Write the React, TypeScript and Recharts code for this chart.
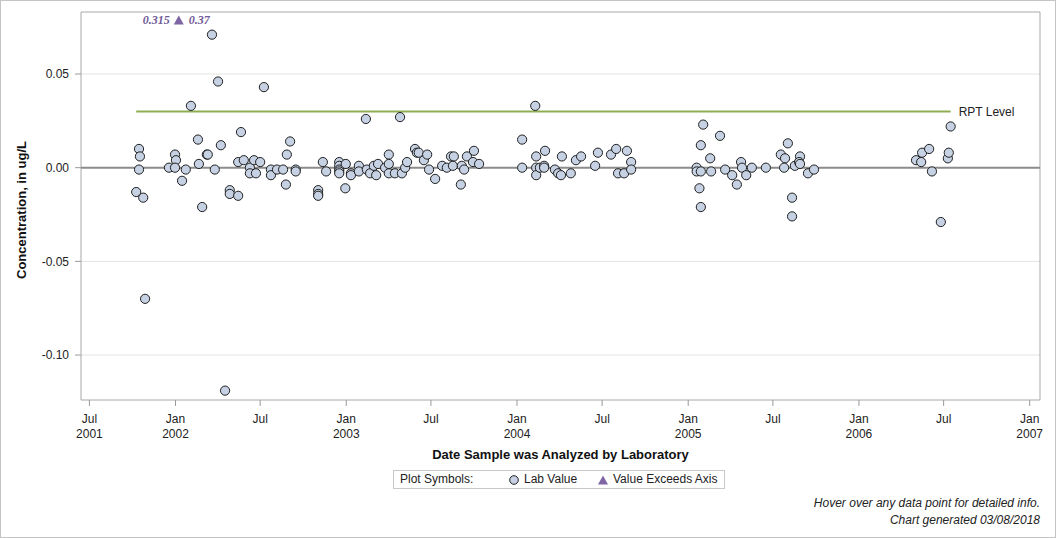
import React from "react";
import {
  ScatterChart,
  Scatter,
  XAxis,
  YAxis,
  CartesianGrid,
  ReferenceLine,
  ReferenceArea,
} from "recharts";

// Lab results: analysis date and reported concentration (ug/L)
const sampleDates = [
  "2001-10-09", "2001-10-15", "2001-10-17", "2001-10-15", "2001-10-24", "2001-10-28",
  "2001-12-18", "2001-12-31", "2002-01-02", "2001-12-31", "2002-01-15", "2002-01-23",
  "2002-02-03", "2002-02-18", "2002-02-20", "2002-02-27", "2002-03-09", "2002-03-11",
  "2002-03-20", "2002-03-26", "2002-04-02", "2002-04-08", "2002-04-17", "2002-04-27",
  "2002-04-27", "2002-05-15", "2002-05-15", "2002-05-21", "2002-05-27", "2002-06-09",
  "2002-06-09", "2002-06-18", "2002-06-22", "2002-07-01", "2002-07-09", "2002-07-24",
  "2002-07-24", "2002-08-06", "2002-08-19", "2002-08-25", "2002-08-27", "2002-09-03",
  "2002-09-15", "2002-09-15", "2002-11-02", "2002-11-02", "2002-11-02", "2002-11-12",
  "2002-11-19", "2002-12-17", "2002-12-17", "2002-12-17", "2002-12-17", "2002-12-17",
  "2002-12-31", "2002-12-30", "2003-01-11", "2003-01-11", "2003-01-28", "2003-01-28",
  "2003-02-12", "2003-02-14", "2003-02-21", "2003-03-01", "2003-03-06", "2003-03-10",
  "2003-03-25", "2003-04-02", "2003-04-02", "2003-04-02", "2003-04-15", "2003-04-26",
  "2003-04-30", "2003-05-07", "2003-05-11", "2003-05-28", "2003-06-01", "2003-06-05",
  "2003-06-16", "2003-06-23", "2003-06-27", "2003-07-10", "2003-07-25", "2003-08-04",
  "2003-08-13", "2003-08-19", "2003-08-17", "2003-09-03", "2003-09-05", "2003-09-10",
  "2003-09-16", "2003-10-01", "2003-09-29", "2003-10-12", "2004-01-12", "2004-01-12",
  "2004-02-09", "2004-02-11", "2004-02-11", "2004-02-11", "2004-02-19", "2004-02-28",
  "2004-02-28", "2004-03-01", "2004-03-22", "2004-03-29", "2004-04-04", "2004-04-06",
  "2004-04-25", "2004-05-06", "2004-05-17", "2004-06-16", "2004-06-22", "2004-07-20",
  "2004-07-31", "2004-08-04", "2004-08-17", "2004-08-23", "2004-09-01", "2004-09-01",
  "2005-01-19", "2005-01-19", "2005-01-28", "2005-01-28", "2005-01-25", "2005-01-28",
  "2005-02-02", "2005-02-17", "2005-02-19", "2005-03-10", "2005-03-21", "2005-04-05",
  "2005-04-15", "2005-04-24", "2005-04-26", "2005-05-05", "2005-05-17", "2005-06-16",
  "2005-07-18", "2005-07-27", "2005-07-25", "2005-08-02", "2005-08-11", "2005-08-11",
  "2005-08-17", "2005-08-28", "2005-08-26", "2005-08-28", "2005-09-14", "2005-09-27",
  "2006-05-03", "2006-05-14", "2006-05-16", "2006-05-31", "2006-06-06", "2006-06-25",
  "2006-07-10", "2006-07-12", "2006-07-16",
];

const labValues = [
  -0.013, 0.010, 0.006, -0.001, -0.016, -0.070,
  0.000, 0.007, 0.004, 0.000, -0.007, -0.001,
  0.033, 0.015, 0.002, -0.021, 0.007, 0.007,
  0.071, -0.001, 0.046, 0.012, -0.119, -0.012,
  -0.014, -0.015, 0.003, 0.019, 0.004, 0.000,
  -0.003, 0.004, -0.003, 0.003, 0.043, -0.001,
  -0.004, -0.001, -0.001, -0.009, 0.007, 0.014,
  -0.001, -0.002, -0.012, -0.014, -0.015, 0.003,
  -0.002, 0.003, 0.001, -0.001, -0.002, -0.003,
  0.002, -0.011, -0.003, -0.004, 0.001, -0.002,
  0.026, -0.001, -0.003, 0.001, -0.004, 0.002,
  0.000, 0.007, 0.002, -0.003, -0.003, 0.027,
  -0.003, 0.000, 0.003, 0.010, 0.008, 0.008,
  0.004, 0.007, -0.001, -0.006, 0.001, 0.000,
  0.006, 0.006, 0.001, -0.009, 0.001, -0.001,
  0.006, 0.009, 0.003, 0.002, 0.015, 0.000,
  0.033, 0.006, 0.000, -0.004, 0.000, 0.001,
  0.000, 0.009, -0.001, -0.003, -0.004, 0.006,
  -0.003, 0.004, 0.006, 0.001, 0.008, 0.007,
  0.010, -0.003, -0.003, 0.009, 0.003, -0.001,
  0.000, -0.002, 0.012, -0.002, -0.011, -0.021,
  0.023, 0.005, -0.002, 0.017, -0.001, -0.004,
  -0.009, 0.003, 0.000, -0.004, 0.000, 0.000,
  0.007, 0.005, 0.000, 0.013, -0.016, -0.026,
  0.001, 0.006, 0.003, 0.002, -0.003, -0.001,
  0.004, 0.003, 0.008, 0.010, -0.002, -0.029,
  0.005, 0.008, 0.022,
];

// Results above the top of the axis, shown as a single marker
const exceedDate = "2002-01-08";
const exceedValues = [0.315, 0.37];

// Reporting level line
const rptDates = ["2001-10-09", "2006-07-16"];
const rptLevel = 0.03;
const rptLabel = "RPT Level";

const xTickDates = [
  "2001-07-01", "2002-01-01", "2002-07-01", "2003-01-01", "2003-07-01", "2004-01-01",
  "2004-07-01", "2005-01-01", "2005-07-01", "2006-01-01", "2006-07-01", "2007-01-01",
];
const yTicks = [-0.1, -0.05, 0, 0.05];

const xDomainDates = ["2001-06-13", "2007-01-23"];
const yDomain: [number, number] = [-0.124, 0.0831];
// where an off-scale marker sits, just under the top of the axis
const exceedMarkerLevel = 0.0788;

const FONT = "'Liberation Sans', Arial, Helvetica, sans-serif";
const SERIF = "'Liberation Serif', 'Times New Roman', serif";
const MONTHS = ["Jan", "Feb", "Mar", "Apr", "May", "Jun", "Jul", "Aug", "Sep", "Oct", "Nov", "Dec"];

const toTime = (s: string) => Date.parse(s + "T00:00:00Z");

const labData = sampleDates.map((d, i) => ({ t: toTime(d), v: labValues[i] }));
const rptData = rptDates.map((d, i) => ({
  t: toTime(d),
  v: rptLevel,
  label: i === rptDates.length - 1 ? rptLabel : "",
}));
const exceedData = [
  {
    t: toTime(exceedDate),
    v: Math.min(exceedValues[0], exceedMarkerLevel),
    lo: exceedValues[0],
    hi: exceedValues[1],
  },
];
const xTicks = xTickDates.map(toTime);
const xDomain: [number, number] = [toTime(xDomainDates[0]), toTime(xDomainDates[1])];

const LabDot = (p: any) => (
  <circle cx={p.cx} cy={p.cy} r={4.6} fill="#c6d2e4" stroke="#1e1e1e" strokeWidth={1} />
);

const RptPoint = (p: any) => {
  const label = p.payload && p.payload.label;
  if (!label) return <g />;
  return (
    <text x={p.cx + 8} y={p.cy} dy="0.36em" fontSize={12} fontFamily={FONT} fill="#222">
      {label}
    </text>
  );
};

const ExceedMark = (p: any) => {
  const { cx, cy } = p;
  const pl = p.payload || p;
  return (
    <g>
      <path d={`M${cx - 5},${cy + 4.5} L${cx + 5},${cy + 4.5} L${cx},${cy - 4.5} Z`} fill="#7e66a4" />
      <text
        x={cx - 9}
        y={cy}
        dy="0.36em"
        textAnchor="end"
        fontSize={12}
        fontStyle="italic"
        fontWeight="bold"
        fontFamily={SERIF}
        fill="#6f5a98"
      >
        {pl.lo}
      </text>
      <text
        x={cx + 10}
        y={cy}
        dy="0.36em"
        textAnchor="start"
        fontSize={12}
        fontStyle="italic"
        fontWeight="bold"
        fontFamily={SERIF}
        fill="#6f5a98"
      >
        {pl.hi}
      </text>
    </g>
  );
};

const XTick = (props: any) => {
  const { x, y, payload, index } = props;
  const d = new Date(payload.value);
  const month = MONTHS[d.getUTCMonth()];
  const showYear = d.getUTCMonth() === 0 || index === 0;
  return (
    <text x={x} y={y} textAnchor="middle" fontSize={12} fontFamily={FONT} fill="#222">
      <tspan x={x} dy={15}>
        {month}
      </tspan>
      {showYear ? (
        <tspan x={x} dy={15}>
          {d.getUTCFullYear()}
        </tspan>
      ) : null}
    </text>
  );
};

const XTitle = () => (
  <text x={560.5} y={459} textAnchor="middle" fontSize={13} fontWeight="bold" fontFamily={FONT} fill="#111">
    Date Sample was Analyzed by Laboratory
  </text>
);

const YTitle = () => (
  <text
    x={21}
    y={210}
    transform="rotate(-90 21 210)"
    textAnchor="middle"
    dy="0.36em"
    fontSize={13}
    fontWeight="bold"
    fontFamily={FONT}
    fill="#111"
  >
    Concentration, in ug/L
  </text>
);

export default function App() {
  return (
    <div
      style={{
        position: "absolute",
        left: 0,
        top: 0,
        width: 1056,
        height: 538,
        background: "#fff",
        fontFamily: FONT,
        overflow: "hidden",
      }}
    >
      <ScatterChart width={1056} height={538} margin={{ top: 12, right: 16, bottom: 0, left: 0 }}>
        <CartesianGrid horizontal vertical={false} stroke="#e3e3e3" horizontalValues={yTicks} />
        <XAxis
          type="number"
          dataKey="t"
          domain={xDomain}
          ticks={xTicks}
          allowDataOverflow
          height={138}
          axisLine={false}
          tickLine={{ stroke: "#9a9a9a" }}
          tickSize={6}
          tickMargin={2}
          tick={<XTick />}
          interval={0}
          label={<XTitle />}
        />
        <YAxis
          type="number"
          dataKey="v"
          domain={yDomain}
          ticks={yTicks}
          allowDataOverflow
          width={81}
          axisLine={false}
          tickLine={{ stroke: "#9a9a9a" }}
          tickSize={6}
          tickMargin={6}
          tickFormatter={(v: number) => v.toFixed(2)}
          tick={{ fontSize: 12, fontFamily: FONT, fill: "#222" }}
          interval={0}
          label={<YTitle />}
        />
        <ReferenceArea
          x1={xDomain[0]}
          x2={xDomain[1]}
          y1={yDomain[0]}
          y2={yDomain[1]}
          fill="none"
          stroke="#a8a8a8"
          strokeWidth={1}
          ifOverflow="visible"
        />
        <ReferenceLine y={0} stroke="#8c8c8c" strokeWidth={2} />
        <Scatter
          data={rptData}
          line={{ stroke: "#8fae52", strokeWidth: 2 }}
          shape={<RptPoint />}
          isAnimationActive={false}
        />
        <Scatter data={labData} shape={<LabDot />} isAnimationActive={false} />
        <Scatter data={exceedData} shape={<ExceedMark />} isAnimationActive={false} />
      </ScatterChart>

      {/* symbol legend */}
      <div
        style={{
          position: "absolute",
          left: 393,
          top: 470,
          width: 332,
          height: 19,
          border: "1px solid #c9c9c9",
          boxSizing: "border-box",
          fontSize: 12,
          color: "#222",
        }}
      >
        <span style={{ position: "absolute", left: 6, top: 1 }}>Plot Symbols:</span>
        <svg style={{ position: "absolute", left: 114, top: 3 }} width={12} height={12}>
          <circle cx={6} cy={6} r={4.3} fill="#c6d2e4" stroke="#1e1e1e" strokeWidth={1} />
        </svg>
        <span style={{ position: "absolute", left: 130, top: 1 }}>Lab Value</span>
        <svg style={{ position: "absolute", left: 203, top: 3 }} width={12} height={12}>
          <path d="M1,10.5 L11,10.5 L6,1.5 Z" fill="#7e66a4" />
        </svg>
        <span style={{ position: "absolute", left: 219, top: 1 }}>Value Exceeds Axis</span>
      </div>

      {/* footer notes */}
      <div
        style={{
          position: "absolute",
          right: 16,
          top: 495,
          textAlign: "right",
          fontSize: 12,
          fontStyle: "italic",
          lineHeight: "17px",
          color: "#222",
        }}
      >
        <div>Hover over any data point for detailed info.</div>
        <div>Chart generated 03/08/2018</div>
      </div>

      {/* outer frame */}
      <div
        style={{
          position: "absolute",
          left: 0,
          top: 0,
          width: 1056,
          height: 538,
          border: "1px solid #c4c4c4",
          boxSizing: "border-box",
          pointerEvents: "none",
        }}
      />
    </div>
  );
}
